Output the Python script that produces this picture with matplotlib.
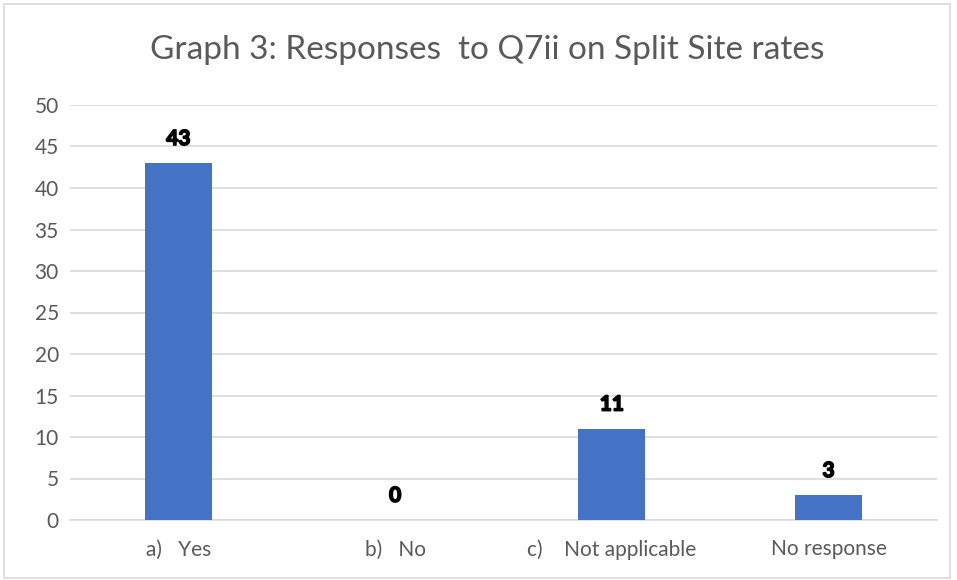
import matplotlib.pyplot as plt
import matplotlib.patheffects as pe
import numpy as np
from matplotlib.patches import Rectangle

categories = ["a)   Yes", "b)   No", "c)    Not applicable", "No response"]
values = [43, 0, 11, 3]

plt.rcParams["font.family"] = ["Lato", "DejaVu Sans"]

fig = plt.figure(figsize=(9.57, 5.80), dpi=100)
ax = fig.add_axes([70 / 957, 60 / 580, 867 / 957, 415 / 580])

# light border round the chart area
fig.patches.append(Rectangle((4 / 957, 2 / 580), 946 / 957, 574 / 580, transform=fig.transFigure,
                             fill=False, edgecolor="#D9D9D9", linewidth=1.2))

x = np.arange(len(categories))
bars = ax.bar(x, values, width=0.31, color="#4472C4", zorder=3)
for xi, v in zip(x, values):
    ax.text(xi, v + 1.7, str(v), ha="center", va="bottom", fontsize=15, fontweight="bold", color="black",
            path_effects=[pe.withStroke(linewidth=1.2, foreground="black")])

ax.set_xlim(-0.5, len(categories) - 0.5)
ax.set_ylim(0, 50)
ax.set_yticks(range(0, 51, 5))
ax.set_xticks(x)
ax.set_xticklabels(categories)
ax.yaxis.grid(True, color="#D9D9D9", linewidth=1.2)
ax.set_axisbelow(True)
for s in ["top", "right", "left"]:
    ax.spines[s].set_visible(False)
ax.spines["bottom"].set_color("#D9D9D9")
ax.spines["bottom"].set_linewidth(1.2)
ax.tick_params(length=0, colors="#595959", labelsize=15)
ax.tick_params(axis="x", pad=14)
ax.tick_params(axis="y", pad=8)

fig.suptitle("Graph 3: Responses  to Q7ii on Split Site rates", x=487 / 957, y=1 - 50 / 580,
             va="center", fontsize=24, color="#595959")

fig.savefig("out.png", dpi=100)
